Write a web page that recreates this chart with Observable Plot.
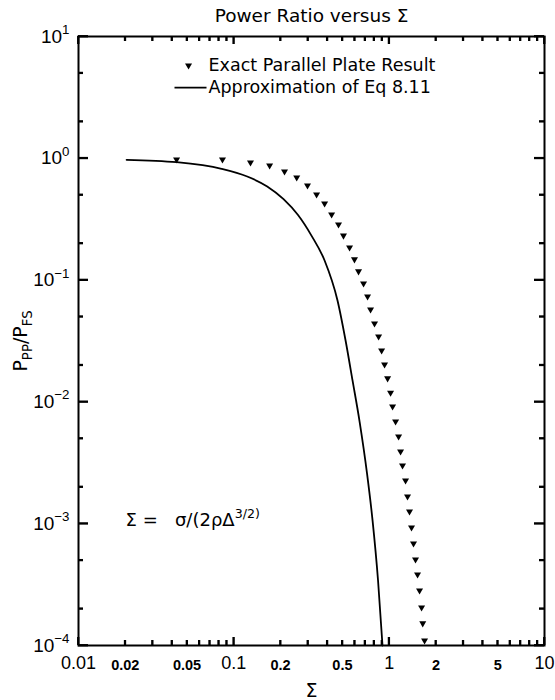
<!DOCTYPE html>
<html><head><meta charset="utf-8">
<script src="https://cdn.jsdelivr.net/npm/d3@7"></script>
<script src="https://cdn.jsdelivr.net/npm/@observablehq/plot@0.6"></script>
<style>body{margin:0;background:#fff}</style>
</head><body><div id="chart"></div>
<script>
// ---- data ----
const exactSigma = [0.0428, 0.0845, 0.128, 0.170, 0.212, 0.254, 0.298, 0.341, 0.384, 0.426,
  0.472, 0.508, 0.556, 0.598, 0.635, 0.684, 0.726, 0.759, 0.805, 0.855,
  0.894, 0.934, 0.977, 1.021, 1.052, 1.100, 1.150, 1.184, 1.219, 1.275,
  1.313, 1.352, 1.393, 1.435, 1.478, 1.523, 1.569, 1.617, 1.645, 1.690];
const exactRatio = [0.977, 0.977, 0.924, 0.873, 0.779, 0.696, 0.598, 0.505, 0.426, 0.346,
  0.286, 0.232, 0.185, 0.148, 0.118, 0.0938, 0.0734, 0.0574, 0.0440, 0.0344,
  0.0264, 0.0203, 0.0156, 0.0119, 0.00917, 0.00690, 0.00520, 0.00392, 0.00301, 0.00226,
  0.00167, 0.00126, 0.000931, 0.000688, 0.000508, 0.000383, 0.000283, 0.000205, 0.000152, 0.000110];
const approxSigma = [0.0204, 0.0428, 0.0834, 0.122, 0.164, 0.209, 0.259, 0.316, 0.384,
  0.465, 0.524, 0.581, 0.645, 0.7205, 0.782, 0.848, 0.906];
const approxRatio = [0.972, 0.929, 0.820, 0.709, 0.587, 0.462, 0.342, 0.232, 0.1449,
  0.0680, 0.0319, 0.0150, 0.0069, 0.00258, 0.00106, 0.000342, 0.0001];

const xMajorTicks = [0.01, 0.1, 1, 10];
const xMajorLabels = ["0.01", "0.1", "1", "10"];
const xMinorTicks = [0.02,0.03,0.04,0.05,0.06,0.07,0.08,0.09, 0.2,0.3,0.4,0.5,0.6,0.7,0.8,0.9, 2,3,4,5,6,7,8,9];
const xMinorLabelValues = [0.02, 0.05, 0.2, 0.5, 2, 5];
const xMinorLabels = ["0.02", "0.05", "0.2", "0.5", "2", "5"];
const yMajorTicks = [1e-4, 1e-3, 1e-2, 1e-1, 1, 10];
const yTickLabels = ["10^{−4}", "10^{−3}", "10^{−2}", "10^{−1}", "10^{0}", "10^{1}"];
const yMinorTicks = [2e-4,5e-4, 2e-3,5e-3, 2e-2,5e-2, 0.2,0.5, 2,5];

const titleText = "Power Ratio versus Σ";
const xLabel = "Σ";
const yLabel = "P_{PP}/P_{FS}";
const legendLabels = ["Exact Parallel Plate Result", "Approximation of Eq 8.11"];
const formulaText = "Σ = \u00a0\u00a0σ/(2ρΔ^{3/2)}";
// annotation anchors (data space)
const legendRowY = [5.78, 3.81];
const legendSymbolX = 0.0511, legendLineX = [0.0415, 0.0667], legendTextX = 0.0687;
const formulaPos = {x: 0.0201, y: 0.00106};

const exact = exactSigma.map((s, i) => ({s, r: exactRatio[i]}));
const approx = approxSigma.map((s, i) => ({s, r: approxRatio[i]}));

const sans = "'DejaVu Sans', 'Liberation Sans', sans-serif";
const num = "'Liberation Sans', Arial, sans-serif";

const W = 555, H = 700, mL = 78, mR = 11, mT = 36, mB = 55;
const fw = W - mL - mR, fh = H - mT - mB;   // frame size in px
const majLen = 8, minLen = 5, yMajLen = 10, yMinLen = 5;
const tw = 1.8;

const plot = Plot.plot({
  width: W,
  height: H,
  marginLeft: mL,
  marginRight: mR,
  marginTop: mT,
  marginBottom: mB,
  style: {background: "white", color: "black", fontFamily: num, overflow: "visible"},
  x: {type: "log", domain: [0.01, 10], axis: null},
  y: {type: "log", domain: [1e-4, 10], axis: null},
  marks: [
    Plot.text(xMajorTicks, {x: d => d, text: (d, i) => xMajorLabels[i], frameAnchor: "bottom",
      dy: 18, lineAnchor: "middle", fontSize: 18, fontFamily: num}),
    Plot.text(xMinorLabelValues, {x: d => d, text: (d, i) => xMinorLabels[i], frameAnchor: "bottom",
      dy: 20, lineAnchor: "middle", fontSize: 14.5, fontWeight: "bold", fontFamily: num}),
    Plot.text(yMajorTicks, {y: d => d, text: (d, i) => yTickLabels[i], frameAnchor: "left",
      textAnchor: "end", dx: -9, lineAnchor: "middle", fontSize: 19, fontFamily: num}),
    Plot.text([xLabel], {frameAnchor: "bottom", dy: 45, textAnchor: "middle", lineAnchor: "middle", fontSize: 19, fontFamily: sans}),
    Plot.text([yLabel], {frameAnchor: "left", dx: -58, rotate: -90, textAnchor: "middle", lineAnchor: "middle", fontSize: 19, fontFamily: sans}),
    Plot.text([titleText], {frameAnchor: "top", dy: -20, textAnchor: "middle", lineAnchor: "middle", fontSize: 18.5, fontFamily: sans}),
    Plot.line(approx, {x: "s", y: "r", stroke: "black", strokeWidth: 1.8, curve: "monotone-x"}),
    Plot.dot(exact, {x: "s", y: "r", symbol: "triangle", rotate: 180, r: 2.6, fill: "black", stroke: null}),
    Plot.dot([legendRowY[0]], {x: () => legendSymbolX, y: d => d, symbol: "triangle", rotate: 180, r: 2.6, fill: "black", stroke: null}),
    Plot.link([legendRowY[1]], {x1: () => legendLineX[0], x2: () => legendLineX[1], y1: d => d, y2: d => d, stroke: "black", strokeWidth: 1.8}),
    Plot.text(legendRowY, {x: () => legendTextX, y: d => d, text: (d, i) => legendLabels[i], textAnchor: "start",
      lineAnchor: "middle", fontSize: 17.5, fontFamily: sans}),
    Plot.text([formulaText], {x: () => formulaPos.x, y: () => formulaPos.y, textAnchor: "start",
      lineAnchor: "middle", fontSize: 18, fontFamily: sans}),
    Plot.frame({stroke: "black", strokeWidth: 2}),
    Plot.tickX(xMajorTicks, {x: d => d, insetTop: fh - majLen, stroke: "black", strokeWidth: tw}),
    Plot.tickX(xMinorTicks, {x: d => d, insetTop: fh - minLen, stroke: "black", strokeWidth: tw}),
    Plot.tickX(xMajorTicks, {x: d => d, insetBottom: fh - majLen, stroke: "black", strokeWidth: tw}),
    Plot.tickX(xMinorTicks, {x: d => d, insetBottom: fh - minLen, stroke: "black", strokeWidth: tw}),
    Plot.tickY(yMajorTicks, {y: d => d, insetRight: fw - yMajLen, stroke: "black", strokeWidth: tw}),
    Plot.tickY(yMinorTicks, {y: d => d, insetRight: fw - yMinLen, stroke: "black", strokeWidth: tw}),
    Plot.tickY(yMajorTicks, {y: d => d, insetLeft: fw - yMajLen, stroke: "black", strokeWidth: tw}),
    Plot.tickY(yMinorTicks, {y: d => d, insetLeft: fw - yMinLen, stroke: "black", strokeWidth: tw})
  ]
});

document.getElementById("chart").append(plot);

// extra safety: inward ticks placed through Plot's own scales
(function addTicks() {
  const sx = plot.scale("x"), sy = plot.scale("y");
  const g = d3.select(plot).append("g").attr("stroke", "black").attr("stroke-width", tw);
  const x0 = mL, x1 = W - mR, y0 = mT, y1 = H - mB;
  const xt = [...xMajorTicks.map(v => [v, majLen]), ...xMinorTicks.map(v => [v, minLen])];
  const yt = [...yMajorTicks.map(v => [v, yMajLen]), ...yMinorTicks.map(v => [v, yMinLen])];
  xt.forEach(([v, len]) => {
    const px = sx.apply(v);
    g.append("line").attr("x1", px).attr("x2", px).attr("y1", y1).attr("y2", y1 - len);
    g.append("line").attr("x1", px).attr("x2", px).attr("y1", y0).attr("y2", y0 + len);
  });
  yt.forEach(([v, len]) => {
    const py = sy.apply(v);
    g.append("line").attr("x1", x0).attr("x2", x0 + len).attr("y1", py).attr("y2", py);
    g.append("line").attr("x1", x1).attr("x2", x1 - len).attr("y1", py).attr("y2", py);
  });
})();

// turn ^{...} and _{...} into real super/subscript tspans
function richify(root) {
  const NS = "http://www.w3.org/2000/svg";
  root.querySelectorAll("text").forEach(t => {
    if (t.querySelector("tspan")) return;
    const s = t.textContent;
    if (!/[\^_]\{/.test(s)) return;
    const fs = parseFloat(getComputedStyle(t).fontSize) || 16;
    const small = fs * 0.7;
    t.textContent = "";
    const re = /([\^_])\{([^}]*)\}/g;
    let last = 0, m, shift = 0;
    const add = (txt, size, dy) => {
      const ts = document.createElementNS(NS, "tspan");
      ts.textContent = txt;
      if (size) ts.setAttribute("font-size", size);
      if (dy) ts.setAttribute("dy", dy);
      t.appendChild(ts);
    };
    while ((m = re.exec(s))) {
      if (m.index > last) { add(s.slice(last, m.index), null, -shift); shift = 0; }
      const d = m[1] === "^" ? -fs * 0.45 : fs * 0.3;
      add(m[2], small, d - shift); shift = d;
      last = re.lastIndex;
    }
    if (last < s.length) add(s.slice(last), null, -shift);
  });
}
richify(plot);
</script>
</body></html>
